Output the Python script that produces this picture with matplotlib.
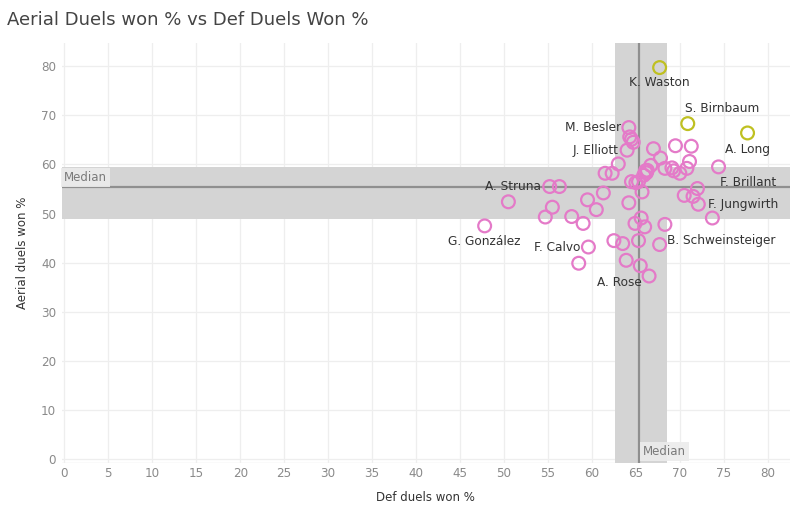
import numpy as np
import matplotlib
matplotlib.use("Agg")
import matplotlib.pyplot as plt

# values
def_won = [64.2, 64.3, 64.5, 64.7, 64.0, 67.0, 69.5, 71.3, 67.8, 71.1,
           74.4, 63.0, 66.7, 68.3, 69.1, 69.3, 70.0, 70.8, 66.1, 66.3,
           66.2, 65.9, 61.5, 62.3, 64.5, 65.0, 65.3, 65.7, 55.2, 56.3,
           61.3, 59.5, 64.2, 50.5, 55.5, 60.5, 54.7, 57.7, 59.0, 47.8,
           70.5, 72.0, 71.5, 72.1, 73.7, 65.6, 64.9, 66.0, 68.3, 59.6,
           58.5, 62.5, 63.5, 65.3, 67.7, 63.9, 65.5, 66.5]
aerial_won = [67.5, 65.6, 65.1, 64.5, 62.9, 63.2, 63.8, 63.7, 61.3, 60.6,
              59.5, 60.1, 59.8, 59.2, 59.3, 58.7, 58.2, 59.2, 58.7, 58.8,
              58.3, 57.8, 58.2, 58.2, 56.5, 56.3, 56.5, 54.4, 55.5, 55.5,
              54.2, 52.8, 52.2, 52.4, 51.3, 50.8, 49.3, 49.4, 48.0, 47.5,
              53.7, 55.1, 53.5, 51.9, 49.1, 49.1, 48.0, 47.3, 47.8, 43.2,
              39.9, 44.5, 43.9, 44.5, 43.7, 40.5, 39.4, 37.3]

top_names = ["K. Waston", "S. Birnbaum", "A. Long"]
top_def = [67.7, 70.9, 77.7]
top_aerial = [79.7, 68.3, 66.4]

# labelled players: (name, index into main arrays)
labelled = [("M. Besler", 0), ("J. Elliott", 4), ("F. Brillant", 41),
            ("F. Jungwirth", 43), ("A. Struna", 28), ("G. González", 39),
            ("F. Calvo", 49), ("B. Schweinsteiger", 54), ("A. Rose", 56)]

x_med, x_lo, x_hi = 65.34, 62.6, 68.57
y_med, y_lo, y_hi = 55.45, 48.9, 59.4

fig = plt.figure(figsize=(8.1, 5.18), dpi=100)
ax = fig.add_axes([0.0762, 0.106, 0.8988, 0.811])

ax.set_xlim(-0.3, 82.5)
ax.set_ylim(-0.75, 84.7)

band = "#d4d4d4"
ax.axvspan(x_lo, x_hi, color=band, lw=0, zorder=1)
ax.axhspan(y_lo, y_hi, color=band, lw=0, zorder=1)
ax.axvline(x_med, color="#8f8f8f", lw=1.6, zorder=2)
ax.axhline(y_med, color="#8f8f8f", lw=1.6, zorder=2)

ax.set_xticks(np.arange(0, 81, 5))
ax.set_yticks(np.arange(0, 81, 10))
ax.grid(True, color="#eeeeee", lw=0.9, zorder=0)
ax.set_axisbelow(True)
for s in ax.spines.values():
    s.set_visible(False)
ax.axhline(-0.75, color="#e6e6e6", lw=1, zorder=0)

ax.tick_params(length=0, colors="#8a8a8a", pad=3)
for lab in ax.get_xticklabels() + ax.get_yticklabels():
    lab.set_fontfamily("DejaVu Sans")
    lab.set_fontstretch("condensed")
    lab.set_fontsize(9.5)
ax.tick_params(axis="y", pad=4)

ax.scatter(def_won, aerial_won, s=85, facecolors="none", edgecolors="#e47ac8",
           linewidths=1.6, zorder=4)
ax.scatter(top_def, top_aerial, s=85, facecolors="none", edgecolors="#bfc021",
           linewidths=1.6, zorder=4)

lab_kw = dict(fontsize=8.7, color="#333333", textcoords="offset points",
              va="center", zorder=5)
top_offsets = [((0, -11), "center"), ((25, 11), "center"), ((0, -12), "center")]
for name, x, y, (off, ha) in zip(top_names, top_def, top_aerial, top_offsets):
    ax.annotate(name, (x, y), xytext=off, ha=ha, **lab_kw)

offsets = {"M. Besler": ((-6, 0), "right"), "J. Elliott": ((-6, 0), "right"),
           "F. Brillant": ((16, 4), "left"), "F. Jungwirth": ((7, 0), "left"),
           "A. Struna": ((-6, 0), "right"), "G. González": ((0, -11), "center"),
           "F. Calvo": ((-6, 0), "right"),
           "B. Schweinsteiger": ((5, 3), "left"), "A. Rose": ((-15, -12), "center")}
for name, i in labelled:
    off, ha = offsets[name]
    ax.annotate(name, (def_won[i], aerial_won[i]), xytext=off, ha=ha, **lab_kw)

med_box = dict(boxstyle="square,pad=0.25", fc="#ececec", ec="none", alpha=0.9)
ax.text(0.0, y_med + 0.6, "Median", fontsize=8.5, color="#7a7a7a",
        ha="left", va="bottom", bbox=med_box, zorder=3)
ax.text(x_med + 0.45, 0.2, "Median", fontsize=8.5, color="#7a7a7a",
        ha="left", va="bottom", bbox=med_box, zorder=3)

ax.set_xlabel("Def duels won %", fontsize=8.5, color="#333333", labelpad=8)
ax.set_ylabel("Aerial duels won %", fontsize=8.5, color="#333333", labelpad=9)

fig.text(0.009, 0.962, "Aerial Duels won % vs Def Duels Won %", fontsize=13,
         color="#444444", ha="left", va="center")

fig.savefig("out.png", dpi=100)
